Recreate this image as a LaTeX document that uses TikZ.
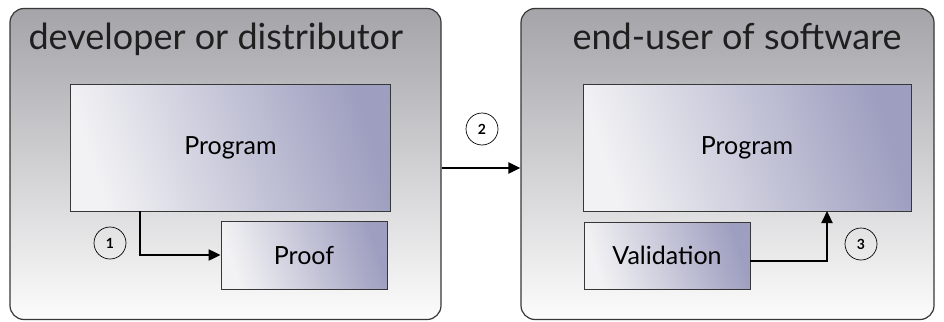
\documentclass[tikz,border=0pt]{standalone}
\usepackage{fontspec}
\setmainfont{Lato}
\usetikzlibrary{arrows.meta}
\definecolor{boxdark}{RGB}{158,158,192}
\definecolor{boxlight}{RGB}{242,242,244}
\definecolor{contdark}{RGB}{164,164,169}
\definecolor{contlight}{RGB}{252,252,252}
\definecolor{edgecol}{RGB}{55,55,55}
\tikzset{
  container/.style={draw=edgecol, line width=1.2pt, rounded corners=14pt,
    top color=contdark, bottom color=contlight, middle color=contlight!50!contdark},
  procbox/.style={draw=edgecol, line width=0.9pt, shading=axis,
    top color=boxdark, bottom color=boxlight, shading angle=-72},
  title/.style={font=\fontsize{36}{40}\selectfont, anchor=base west, text=black!88},
  boxlabel/.style={font=\fontsize{25}{28}\selectfont},
  numcirc/.style={draw=black, line width=0.7pt, circle, minimum size=32pt, inner sep=0pt,
    font=\bfseries\fontsize{14}{16}\selectfont},
  flow/.style={line width=2.2pt, -{Triangle[length=12pt,width=11pt]}},
}
\begin{document}
\begin{tikzpicture}[x=1pt,y=-1pt]
\useasboundingbox (0,0) rectangle (944,321);
% containers
\node[container, minimum width=431pt, minimum height=311pt, inner sep=0pt] (devc) at (225.5,164) {};
\node[container, minimum width=413pt, minimum height=311pt, inner sep=0pt] (usrc) at (727.5,164) {};
\node[title] (devt) at (25,49) {developer or distributor};
\node[title] (usrt) at (569,49) {end-user of software};
% boxes
\node[procbox, boxlabel, minimum width=320pt, minimum height=127pt] (prog1) at (230.5,147.5) {Program};
\node[procbox, boxlabel, minimum width=166pt, minimum height=68pt] (proof) at (304,255) {Proof};
\node[procbox, boxlabel, minimum width=328pt, minimum height=127pt] (prog2) at (747,147.5) {Program};
\node[procbox, boxlabel, minimum width=166pt, minimum height=67pt] (valid) at (667,255.5) {Validation};
% connectors
\coordinate (a1) at (140,211);
\draw[flow] (a1) |- (proof.west);
\coordinate (a3) at (827,211);
\draw[flow] (valid.east |- 0,261) -| (a3);
\draw[flow] (devc.east |- 0,168) -- (usrc.west |- 0,168);
% numbers
\node[numcirc] (n1) at (110,243) {1};
\node[numcirc] (n2) at (482,129) {2};
\node[numcirc] (n3) at (861,244) {3};
\end{tikzpicture}
\end{document}
